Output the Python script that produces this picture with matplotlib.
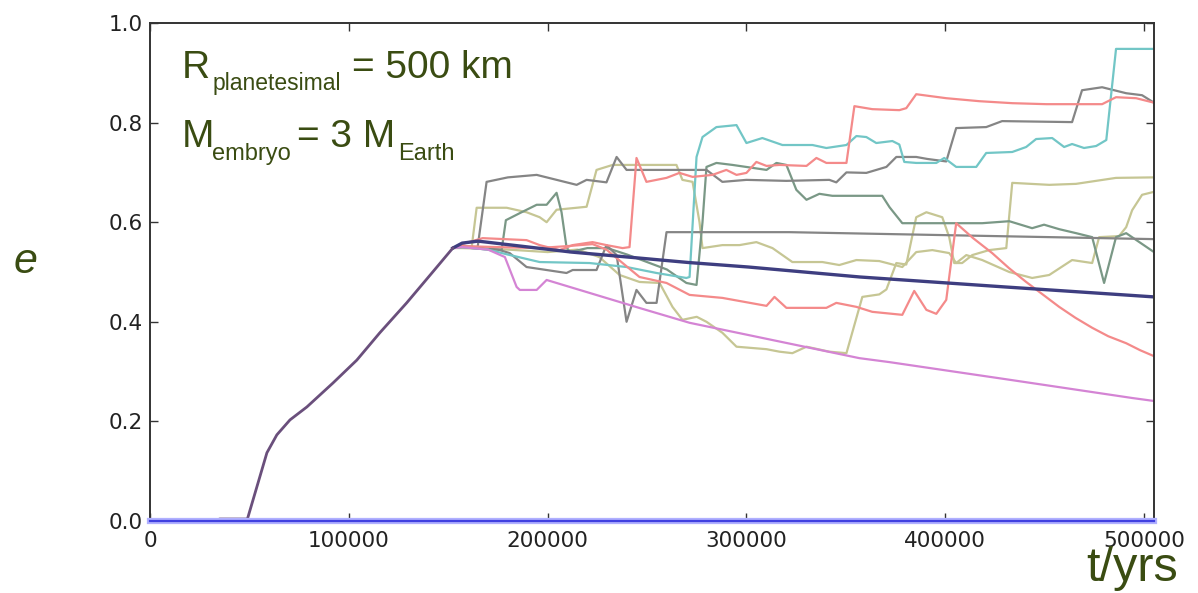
import numpy as np
import matplotlib
matplotlib.use("Agg")
import matplotlib.pyplot as plt

# ---------------- data ----------------
t_common = [0, 33000, 35000, 49000, 58800, 63800, 70400, 78900, 92000, 104000, 115600, 129100, 142200, 152300]
e_common = [0.0, 0.0, 0.004, 0.004, 0.137, 0.173, 0.203, 0.229, 0.277, 0.323, 0.378, 0.438, 0.500, 0.548]

t_zero = [0, 505000]
e_zero = [0.0, 0.0]

t_navy = [157000, 165000, 212000, 246000, 271000, 301000, 357000, 430000, 505000]
e_navy = [0.558, 0.562, 0.540, 0.528, 0.519, 0.510, 0.490, 0.470, 0.450]

t_purple = [157000, 170000, 178500, 184400, 186000, 194500, 199500, 246000, 271400, 301500, 356800, 372000, 430000, 494000, 505000]
e_purple = [0.550, 0.545, 0.530, 0.470, 0.464, 0.464, 0.484, 0.428, 0.398, 0.373, 0.327, 0.319, 0.285, 0.247, 0.241]

t_red_a = [157000, 167300, 189400, 196000, 206000, 212600, 222600, 229600, 237700, 241200, 244700, 249700, 259800,
           266300, 272900, 282900, 289900, 295000, 300000, 305000, 310100, 316600, 330200, 335200, 340200, 350300,
           354300, 363300, 376900, 380400, 385400, 400500, 417100, 433700, 450800, 478900, 485900, 496000, 505000]
e_red_a = [0.556, 0.568, 0.564, 0.554, 0.544, 0.554, 0.560, 0.554, 0.548, 0.550, 0.729, 0.681, 0.689,
           0.699, 0.691, 0.695, 0.705, 0.695, 0.699, 0.721, 0.713, 0.715, 0.713, 0.729, 0.719, 0.719,
           0.833, 0.827, 0.825, 0.829, 0.857, 0.849, 0.843, 0.839, 0.837, 0.837, 0.851, 0.849, 0.840]

t_red_b = [157000, 175000, 195000, 210000, 222600, 229600, 234700, 246200, 259800, 271400, 287900, 310100, 314100,
           320100, 340200, 345200, 355300, 363300, 378400, 384400, 390500, 395500, 400500, 405500, 414000, 423600,
           432000, 440700, 449000, 457300, 465500, 473900, 482000, 491000, 498000, 505000]
e_red_b = [0.552, 0.550, 0.548, 0.552, 0.556, 0.545, 0.528, 0.490, 0.478, 0.454, 0.448, 0.432, 0.450,
           0.428, 0.428, 0.438, 0.430, 0.420, 0.414, 0.462, 0.424, 0.416, 0.444, 0.598, 0.568, 0.538,
           0.508, 0.480, 0.455, 0.430, 0.408, 0.388, 0.371, 0.357, 0.343, 0.331]

t_cyan = [157000, 170000, 180000, 196000, 221100, 239700, 254800, 269800, 271400, 274900, 277900, 284900, 295000,
          300000, 308000, 318100, 333200, 340200, 350300, 355300, 360300, 365300, 373400, 376900, 379400, 385400,
          395500, 399500, 405500, 415600, 420600, 433700, 440700, 445700, 453800, 459800, 463800, 469800, 475900,
          481000, 485900, 505000]
e_cyan = [0.550, 0.545, 0.535, 0.520, 0.518, 0.510, 0.498, 0.488, 0.490, 0.731, 0.771, 0.791, 0.795,
          0.759, 0.769, 0.755, 0.755, 0.749, 0.755, 0.773, 0.771, 0.759, 0.763, 0.756, 0.721, 0.719,
          0.719, 0.729, 0.711, 0.711, 0.739, 0.741, 0.751, 0.767, 0.769, 0.751, 0.757, 0.749, 0.753,
          0.765, 0.948, 0.948]

t_gray_a = [157000, 164800, 169300, 180000, 194500, 214600, 219600, 229600, 234700, 239700, 279900, 287900, 300000,
            320000, 341700, 345200, 350300, 360300, 370400, 375400, 385400, 391000, 400500, 405500, 420600, 428600,
            463800, 468800, 478900, 491000, 499000, 505000]
e_gray_a = [0.552, 0.550, 0.681, 0.690, 0.695, 0.675, 0.685, 0.680, 0.731, 0.705, 0.705, 0.681, 0.685,
            0.683, 0.685, 0.680, 0.700, 0.699, 0.711, 0.731, 0.731, 0.727, 0.722, 0.789, 0.791, 0.803,
            0.801, 0.865, 0.871, 0.859, 0.855, 0.840]

t_gray_b = [157000, 175000, 180900, 189400, 209500, 212600, 224600, 229600, 234700, 239700, 244700, 249700, 254800,
            259800, 266300, 321600, 505000]
e_gray_b = [0.552, 0.545, 0.538, 0.510, 0.498, 0.504, 0.504, 0.554, 0.534, 0.400, 0.464, 0.438, 0.438,
            0.580, 0.580, 0.580, 0.566]

t_graygreen = [157000, 170000, 176900, 179000, 185900, 194500, 199500, 204500, 207000, 209500, 211100, 220000, 230000,
               240000, 250000, 260000, 269800, 274900, 277900, 279900, 284900, 293000, 310100, 315100, 320100, 325100,
               330200, 336700, 343200, 368300, 372000, 378400, 395500, 418600, 432200, 443700, 449700, 457300, 465800,
               473900, 479900, 485900, 491000, 505000]
e_graygreen = [0.550, 0.545, 0.545, 0.604, 0.618, 0.635, 0.635, 0.659, 0.620, 0.550, 0.540, 0.548, 0.548,
               0.535, 0.520, 0.505, 0.478, 0.474, 0.600, 0.711, 0.719, 0.715, 0.705, 0.719, 0.715, 0.665,
               0.645, 0.657, 0.653, 0.653, 0.630, 0.598, 0.598, 0.598, 0.602, 0.588, 0.595, 0.586, 0.578,
               0.570, 0.478, 0.570, 0.578, 0.540]

t_olive_b = [157000, 161800, 164300, 179400, 189400, 196000, 199500, 204500, 219600, 224600, 232700, 264800, 267800,
             272900, 276400, 277900, 287900, 296500, 305000, 313100, 323100, 338200, 346700, 355300, 366800, 378400,
             385400, 393500, 402000, 405500, 410600, 418600, 432200, 443700, 452300, 463800, 473900, 477400, 487400,
             491000, 494000, 499000, 505000]
e_olive_b = [0.550, 0.550, 0.629, 0.629, 0.620, 0.610, 0.600, 0.625, 0.631, 0.705, 0.715, 0.715, 0.685,
             0.681, 0.600, 0.548, 0.554, 0.554, 0.560, 0.548, 0.520, 0.520, 0.514, 0.524, 0.522, 0.510,
             0.540, 0.544, 0.538, 0.518, 0.534, 0.524, 0.500, 0.488, 0.494, 0.524, 0.518, 0.570, 0.572,
             0.590, 0.624, 0.655, 0.661]

t_olive_a = [157000, 180000, 200000, 215000, 226000, 236200, 246200, 256300, 262800, 267800, 275000, 279900, 287900,
             295000, 310100, 316600, 323100, 330200, 341700, 350300, 358300, 366800, 370400, 375400, 380400, 385400,
             390500, 398500, 402000, 404500, 408500, 413600, 422100, 430700, 433700, 452300, 465800, 485900, 505000]
e_olive_a = [0.548, 0.545, 0.540, 0.545, 0.530, 0.494, 0.480, 0.478, 0.430, 0.404, 0.410, 0.400, 0.378,
             0.350, 0.345, 0.340, 0.337, 0.350, 0.340, 0.337, 0.450, 0.455, 0.465, 0.518, 0.515, 0.610,
             0.620, 0.610, 0.570, 0.518, 0.518, 0.534, 0.544, 0.548, 0.679, 0.675, 0.677, 0.689, 0.690]

x_ticks = [0, 100000, 200000, 300000, 400000, 500000]
y_ticks = [0.0, 0.2, 0.4, 0.6, 0.8, 1.0]

# ---------------- plot ----------------
W, H = 1198, 593
fig = plt.figure(figsize=(W / 100, H / 100), dpi=100)
ax = fig.add_axes([150 / W, 1 - 521 / H, (1154 - 150) / W, (521 - 23) / H])

def tail(ts, es):
    return [t_common[-1]] + list(ts), [e_common[-1]] + list(es)

series = [
    (t_olive_a, e_olive_a, '#c6c694', 1.6),
    (t_olive_b, e_olive_b, '#c6c694', 1.6),
    (t_graygreen, e_graygreen, '#7a9886', 1.6),
    (t_gray_b, e_gray_b, '#858585', 1.6),
    (t_gray_a, e_gray_a, '#858585', 1.6),
    (t_cyan, e_cyan, '#72c6c6', 1.6),
    (t_red_b, e_red_b, '#f48a8a', 1.6),
    (t_red_a, e_red_a, '#f48a8a', 1.6),
    (t_purple, e_purple, '#d484d4', 1.6),
    (t_navy, e_navy, '#3e3e80', 2.4),
]
for ts, es, col, lw in series:
    tt, ee = tail(ts, es)
    ax.plot(tt, ee, color=col, lw=lw, solid_joinstyle='round')

ax.plot(t_common, e_common, color='#6a4f7c', lw=2.0, solid_joinstyle='round')
ax.plot(t_zero, e_zero, color='#b0b0ff', lw=4.5, clip_on=False, zorder=4)
ax.plot(t_zero, e_zero, color='#4040e0', lw=1.6, clip_on=False, zorder=5)

ax.set_xlim(0, 505000)
ax.set_ylim(0, 1.0)
ax.set_xticks(x_ticks)
ax.set_xticklabels([str(v) for v in x_ticks])
ax.set_yticks(y_ticks)
ax.set_yticklabels(['%.1f' % v for v in y_ticks])
ax.tick_params(direction='in', length=6, width=1, top=True, right=True,
               labelsize=15.5, labelcolor='#222222', color='#333333')
ax.tick_params(axis='x', pad=7)
ax.tick_params(axis='y', pad=5)
for s in ax.spines.values():
    s.set_color('#333333')
    s.set_linewidth(1.4)

# ---------------- annotations ----------------
green = '#3a4c12'
fam = ['Liberation Sans', 'DejaVu Sans']

def ftext(x, y, s, size, **kw):
    fig.text(x / W, 1 - y / H, s, fontsize=size, color=green, family=fam,
             ha='left', va='baseline', **kw)

ftext(182, 78, 'R', 28)
ftext(213, 90, 'planetesimal', 16.5)
ftext(352, 78, '= 500 km', 28)
ftext(182, 147, 'M', 28)
ftext(212, 160, 'embryo', 17)
ftext(297, 147, '= 3 M', 28)
ftext(398, 160, 'Earth', 17)

ftext(14, 273, 'e', 31, style='italic')
ftext(1086, 581, 't/yrs', 35)

fig.savefig('out.png', dpi=100)
